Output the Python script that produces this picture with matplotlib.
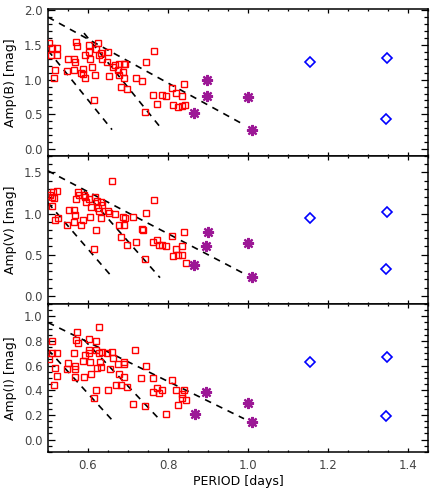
import matplotlib
matplotlib.use('Agg')
import matplotlib.pyplot as plt
from matplotlib.ticker import MultipleLocator

plt.rcParams['font.family'] = 'DejaVu Sans'
plt.rcParams['font.size'] = 8.5
plt.rcParams['text.color'] = '#444444'
plt.rcParams['xtick.color'] = 'black'
plt.rcParams['ytick.color'] = 'black'
plt.rcParams['xtick.labelcolor'] = '#444444'
plt.rcParams['ytick.labelcolor'] = '#444444'

# RRab stars (red squares)
period_b = [0.503, 0.511, 0.522, 0.507, 0.523, 0.518, 0.514, 0.549, 0.548, 0.564,
            0.568, 0.565, 0.570, 0.573, 0.582, 0.587, 0.588, 0.593, 0.593, 0.602,
            0.603, 0.605, 0.610, 0.616, 0.620, 0.618, 0.626, 0.628, 0.633, 0.634,
            0.651, 0.648, 0.653, 0.662, 0.667, 0.675, 0.677, 0.678, 0.683, 0.688,
            0.690, 0.690, 0.693, 0.697, 0.719, 0.734, 0.742, 0.744, 0.764, 0.763,
            0.772, 0.786, 0.795, 0.811, 0.819, 0.812, 0.825, 0.835, 0.843, 0.834,
            0.840]
amp_b = [1.53, 1.46, 1.46, 1.36, 1.35, 1.14, 1.02, 1.30, 1.13, 1.29,
         1.26, 1.14, 1.54, 1.48, 1.09, 1.16, 1.08, 1.03, 1.35, 1.50,
         1.40, 1.30, 1.18, 0.71, 1.44, 1.06, 1.53, 1.36, 1.38, 1.30,
         1.40, 1.26, 1.05, 1.18, 1.21, 1.14, 1.06, 1.22, 0.89, 1.11,
         1.23, 1.02, 1.22, 0.86, 1.02, 0.98, 0.54, 1.25, 1.41, 0.78,
         0.65, 0.78, 0.76, 0.88, 0.81, 0.64, 0.61, 0.62, 0.63, 0.76,
         0.93]

period_v = [0.505, 0.509, 0.511, 0.513, 0.516, 0.522, 0.518, 0.524, 0.548, 0.552,
            0.564, 0.567, 0.565, 0.570, 0.574, 0.577, 0.582, 0.587, 0.591, 0.595,
            0.593, 0.603, 0.605, 0.608, 0.616, 0.620, 0.618, 0.622, 0.624, 0.627,
            0.632, 0.634, 0.633, 0.651, 0.653, 0.660, 0.668, 0.677, 0.682, 0.688,
            0.693, 0.690, 0.698, 0.712, 0.719, 0.734, 0.738, 0.742, 0.744, 0.763,
            0.765, 0.773, 0.778, 0.786, 0.795, 0.811, 0.813, 0.820, 0.826, 0.834,
            0.834, 0.841, 0.844]
amp_v = [1.23, 1.20, 1.09, 1.26, 1.19, 1.28, 0.92, 0.94, 0.86, 1.04,
         1.04, 0.98, 0.90, 1.18, 1.26, 1.22, 0.86, 0.92, 1.22, 1.14,
         1.20, 1.18, 0.96, 1.08, 0.57, 0.80, 1.20, 1.15, 1.07, 1.03,
         1.14, 1.11, 0.95, 1.03, 1.01, 1.39, 1.00, 0.86, 0.71, 0.96,
         0.95, 0.86, 0.62, 0.96, 0.66, 0.81, 0.80, 0.45, 1.01, 0.66,
         1.16, 0.68, 0.62, 0.62, 0.61, 0.73, 0.48, 0.57, 0.49, 0.49,
         0.60, 0.77, 0.40]

period_i = [0.503, 0.511, 0.510, 0.522, 0.518, 0.515, 0.523, 0.551, 0.547, 0.565,
            0.568, 0.567, 0.568, 0.570, 0.573, 0.574, 0.588, 0.590, 0.593, 0.602,
            0.602, 0.603, 0.605, 0.608, 0.615, 0.619, 0.620, 0.620, 0.622, 0.627,
            0.628, 0.630, 0.632, 0.634, 0.648, 0.651, 0.655, 0.661, 0.662, 0.669,
            0.676, 0.678, 0.683, 0.690, 0.691, 0.690, 0.697, 0.713, 0.718, 0.733,
            0.743, 0.744, 0.763, 0.762, 0.772, 0.778, 0.784, 0.794, 0.810, 0.819,
            0.825, 0.834, 0.834, 0.840, 0.844]
amp_i = [0.65, 0.80, 0.70, 0.70, 0.58, 0.44, 0.52, 0.62, 0.57, 0.70,
         0.60, 0.57, 0.51, 0.81, 0.87, 0.78, 0.64, 0.51, 0.69, 0.82,
         0.73, 0.70, 0.63, 0.53, 0.34, 0.80, 0.73, 0.40, 0.58, 0.91,
         0.70, 0.63, 0.59, 0.71, 0.70, 0.40, 0.57, 0.71, 0.66, 0.44,
         0.61, 0.53, 0.44, 0.63, 0.61, 0.51, 0.43, 0.29, 0.73, 0.50,
         0.27, 0.60, 0.50, 0.39, 0.42, 0.38, 0.40, 0.21, 0.48, 0.40,
         0.28, 0.37, 0.34, 0.40, 0.32]

# long-period stars (purple asterisks)
star_period_b = [0.866, 0.898, 0.897, 0.999, 1.009]
star_amp_b = [0.52, 1.00, 0.77, 0.75, 0.28]
star_period_v = [0.866, 0.899, 0.895, 0.999, 1.009]
star_amp_v = [0.38, 0.78, 0.60, 0.64, 0.23]
star_period_i = [0.868, 0.895, 1.001, 1.011]
star_amp_i = [0.21, 0.39, 0.30, 0.14]

# blue diamonds
diam_period = [1.155, 1.348, 1.345]
diam_amp_b = [1.25, 1.31, 0.44]
diam_amp_v = [0.94, 1.02, 0.33]
diam_amp_i = [0.63, 0.67, 0.19]

# dashed reference lines: (start, end) period and amplitude
line_period = [(0.50, 0.99), (0.50, 0.66), (0.59, 0.78)]
line_amp_b = [(1.90, 0.35), (1.42, 0.28), (1.67, 0.32)]
line_amp_v = [(1.52, 0.27), (1.13, 0.23), (1.27, 0.22)]
line_amp_i = [(0.95, 0.17), (0.73, 0.16), (0.81, 0.16)]

panels = [
    ('Amp(B) [mag]', period_b, amp_b, star_period_b, star_amp_b, diam_amp_b,
     line_amp_b, (-0.1, 2.01), 0.5, 0.1),
    ('Amp(V) [mag]', period_v, amp_v, star_period_v, star_amp_v, diam_amp_v,
     line_amp_v, (-0.1, 1.7), 0.5, 0.1),
    ('Amp(I) [mag]', period_i, amp_i, star_period_i, star_amp_i, diam_amp_i,
     line_amp_i, (-0.1, 1.1), 0.2, 0.05),
]

fig = plt.figure(figsize=(4.36, 4.91), dpi=100)
left, width = 48 / 436, 380 / 436
bottoms = [1 - 156 / 491, 1 - 304 / 491, 1 - 452 / 491]
heights = [146.5 / 491, 148 / 491, 148 / 491]

for k, (label, per, amp, sper, samp, damp, lamp, ylim, major, minor) in enumerate(panels):
    ax = fig.add_axes([left, bottoms[k], width, heights[k]])
    for (p0, p1), (a0, a1) in zip(line_period, lamp):
        ax.plot([p0, p1], [a0, a1], color='black', lw=1.2,
                linestyle=(0, (4, 3.5)), zorder=2)
    ax.plot(per, amp, 's', mfc='none', mec='red', ms=4.0, mew=1.0, zorder=3)
    ax.plot(sper, samp, marker=(8, 2, 0), ls='none', color='#9c1896',
            ms=8, mew=1.6, zorder=4)
    ax.plot(diam_period, damp, 'D', mfc='none', mec='#0000ff', ms=5.6,
            mew=1.2, zorder=4)

    ax.set_xlim(0.5, 1.45)
    ax.set_ylim(*ylim)
    ax.xaxis.set_major_locator(MultipleLocator(0.2))
    ax.xaxis.set_minor_locator(MultipleLocator(0.05))
    ax.yaxis.set_major_locator(MultipleLocator(major))
    ax.yaxis.set_minor_locator(MultipleLocator(minor))
    ax.tick_params(which='both', direction='in', top=True, right=True, width=0.9)
    ax.tick_params(axis='y', which='major', length=5.2, pad=4)
    ax.tick_params(axis='y', which='minor', length=2.6)
    ax.tick_params(axis='x', which='major', length=3, pad=5)
    ax.tick_params(axis='x', which='minor', length=1.6)
    for s in ax.spines.values():
        s.set_linewidth(1.1)
    ax.set_ylabel(label, fontsize=9, labelpad=5)
    if k < 2:
        ax.tick_params(axis='x', labelbottom=False)
    else:
        ax.set_xlabel('PERIOD [days]', fontsize=9, labelpad=2)

fig.savefig('out.png', dpi=100)
